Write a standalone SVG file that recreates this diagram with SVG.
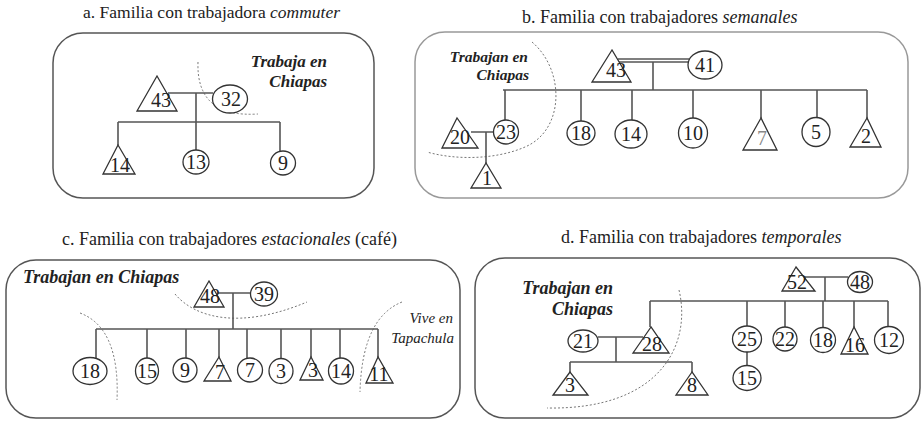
<svg xmlns="http://www.w3.org/2000/svg" width="923" height="421" viewBox="0 0 923 421" font-family="Liberation Serif, Times New Roman, serif">
<style>
.bg{fill:#ffffff}
.box{fill:none;stroke:#555;stroke-width:1.5}
.boxl{fill:none;stroke:#999;stroke-width:1.5}
.sh{fill:#fff;stroke:#333;stroke-width:1.3}
.ln{fill:none;stroke:#555;stroke-width:1.6}
.dash{fill:none;stroke:#777;stroke-width:1;stroke-dasharray:2,2}
.num{font-size:20px;fill:#222;text-anchor:middle}
.ttl{font-size:18px;fill:#222}
.lab{font-size:17px;font-weight:bold;font-style:italic;fill:#222}
.labi{font-size:15px;font-style:italic;fill:#222}
</style>
<rect class="bg" x="0" y="0" width="923" height="421"/>

<!-- Titles -->
<g id="titles" font-family="Liberation Serif, serif">
<text class="ttl" x="83" y="18" style="font-size:17.5px">a. Familia con trabajadora <tspan font-style="italic">commuter</tspan></text>
<text class="ttl" x="522" y="23">b. Familia con trabajadores <tspan font-style="italic">semanales</tspan></text>
<text class="ttl" x="62" y="245">c. Familia con trabajadores <tspan font-style="italic">estacionales</tspan> (café)</text>
<text class="ttl" x="561" y="243">d. Familia con trabajadores <tspan font-style="italic">temporales</tspan></text>
</g>

<!-- Panel frames -->
<rect class="box" x="53" y="33" width="321" height="165" rx="30"/>
<rect class="boxl" x="415" y="32" width="493" height="166" rx="30"/>
<rect class="box" x="6" y="260" width="454" height="158" rx="30"/>
<rect class="box" x="475" y="258" width="445" height="160" rx="30"/>

<!-- Region labels and dashed boundaries -->
<g id="regions" font-family="Liberation Serif, serif">
<text class="lab" x="327" y="67" text-anchor="end">Trabaja en</text>
<text class="lab" x="327" y="87" text-anchor="end">Chiapas</text>
<path class="dash" d="M198,62 Q196,118 258,114"/>
<text class="lab" x="528" y="62" text-anchor="end" style="font-size:15.5px">Trabajan en</text>
<text class="lab" x="529" y="80" text-anchor="end" style="font-size:15.5px">Chiapas</text>
<path class="dash" d="M532,42 C565,70 565,130 525,147 C495,160 455,160 427,152"/>
<text class="lab" x="23" y="283" style="font-size:18px">Trabajan en Chiapas</text>
<text class="labi" x="453" y="323" text-anchor="end">Vive en</text>
<text class="labi" x="454" y="343" text-anchor="end">Tapachula</text>
<path class="dash" d="M80,313 Q120,328 117,400"/>
<path class="dash" d="M175,294 C195,318 240,330 307,302"/>
<path class="dash" d="M402,302 Q362,318 360,392"/>
<text class="lab" x="613" y="294" text-anchor="end" style="font-size:18px">Trabajan en</text>
<text class="lab" x="613" y="315" text-anchor="end" style="font-size:18px">Chiapas</text>
<path class="dash" d="M679,290 C692,345 660,410 547,408"/>
</g>

<!-- Connectors -->
<g id="connectors">
<path class="ln" d="M168,93 H213 M196,93 V150 M118,122 H280 M118,122 V145 M280,122 V151"/>
<path class="ln" d="M618,59 H689 M618,62 H689 M653,62 V90 M503,90 H867 M505,90 V120 M581,90 V121 M632,90 V120 M693,90 V118 M761,90 V118 M817,90 V118 M867,90 V118 M471,132 H494 M486,132 V163"/>
<path class="ln" d="M218,293 H251 M233,293 V329 M96,329 H378 M96,329 V358 M147,329 V358 M186,329 V358 M219,329 V357 M247,329 V358 M281,329 V359 M311,329 V357 M340,329 V358 M378,329 V357"/>
<path class="ln" d="M805,277 H848 M825,277 V301 M650,301 H888 M650,301 V327 M747,301 V326 M785,301 V327 M823,301 V328 M854,301 V327 M888,301 V327 M598,337 H643 M616,337 V362 M570,362 H692 M570,362 V372 M692,362 V372 M747,352 V366"/>
</g>

<g id="nodes" font-family="Liberation Serif, serif">
<!-- Panel a nodes -->
<g id="a43"><polygon class="sh" points="157,76 137,111 177,111"/><text class="num" x="161" y="107">43</text></g>
<g id="a32"><ellipse class="sh" cx="230" cy="99" rx="17.5" ry="14"/><text class="num" x="231" y="106">32</text></g>
<g id="a14"><polygon class="sh" points="118,145 103,174 135,174"/><text class="num" x="120" y="172">14</text></g>
<g id="a13"><ellipse class="sh" cx="196" cy="162" rx="13" ry="12"/><text class="num" x="196" y="169">13</text></g>
<g id="a9"><ellipse class="sh" cx="283" cy="163" rx="12.5" ry="12"/><text class="num" x="283" y="170">9</text></g>

<!-- Panel b nodes -->
<g id="b43"><polygon class="sh" points="612,50 592,82 631,82"/><text class="num" x="616" y="77">43</text></g>
<g id="b41"><ellipse class="sh" cx="705" cy="65" rx="17" ry="14"/><text class="num" x="705" y="72">41</text></g>
<g id="b20"><polygon class="sh" points="457,118 442,148 478,148"/><text class="num" x="460" y="144">20</text></g>
<g id="b23"><ellipse class="sh" cx="506" cy="132" rx="12.5" ry="12"/><text class="num" x="506" y="139">23</text></g>
<g id="b1"><polygon class="sh" points="486,163 471,188 501,188"/><text class="num" x="487" y="185">1</text></g>
<g id="b18"><ellipse class="sh" cx="581" cy="133" rx="14" ry="12"/><text class="num" x="581" y="140">18</text></g>
<g id="b14"><ellipse class="sh" cx="631" cy="134" rx="16" ry="14"/><text class="num" x="631" y="141">14</text></g>
<g id="b10"><ellipse class="sh" cx="693" cy="133" rx="14.5" ry="15"/><text class="num" x="693" y="140">10</text></g>
<g id="b7"><polygon class="sh" points="761,118 743,150 777,150"/><text class="num" x="762" y="145" style="fill:#888">7</text></g>
<g id="b5"><ellipse class="sh" cx="816" cy="132" rx="14" ry="14.5"/><text class="num" x="816" y="139">5</text></g>
<g id="b2"><polygon class="sh" points="867,118 850,147 881,147"/><text class="num" x="866" y="143">2</text></g>

<!-- Panel c nodes -->
<g id="c48"><polygon class="sh" points="209,281 194,307 224,307"/><text class="num" x="210" y="303">48</text></g>
<g id="c39"><ellipse class="sh" cx="264" cy="294" rx="13.5" ry="12"/><text class="num" x="264" y="301">39</text></g>
<g id="c18"><ellipse class="sh" cx="90" cy="371" rx="17" ry="13.5"/><text class="num" x="90" y="378">18</text></g>
<g id="c15"><ellipse class="sh" cx="147" cy="371" rx="11.5" ry="13"/><text class="num" x="147" y="378">15</text></g>
<g id="c9"><ellipse class="sh" cx="185" cy="370" rx="12" ry="12"/><text class="num" x="185" y="377">9</text></g>
<g id="c7t"><polygon class="sh" points="219,357 204,381 231,381"/><text class="num" x="220" y="379">7</text></g>
<g id="c7"><ellipse class="sh" cx="250" cy="370" rx="12.5" ry="12"/><text class="num" x="250" y="377">7</text></g>
<g id="c3"><ellipse class="sh" cx="281" cy="371" rx="12" ry="12.5"/><text class="num" x="281" y="378">3</text></g>
<g id="c3t"><polygon class="sh" points="311,357 300,380 323,380"/><text class="num" x="313" y="377">3</text></g>
<g id="c14"><ellipse class="sh" cx="341" cy="371" rx="12.5" ry="13"/><text class="num" x="341" y="378">14</text></g>
<g id="c11"><polygon class="sh" points="378,357 366,383 393,383"/><text class="num" x="379" y="381">11</text></g>

<!-- Panel d nodes -->
<g id="d52"><polygon class="sh" points="796,267 782,291 815,291"/><text class="num" x="797" y="289">52</text></g>
<g id="d48"><ellipse class="sh" cx="860" cy="282" rx="12.5" ry="10.5"/><text class="num" x="860" y="289">48</text></g>
<g id="d21"><ellipse class="sh" cx="583" cy="341" rx="15" ry="11"/><text class="num" x="583" y="348">21</text></g>
<g id="d28"><polygon class="sh" points="651,327 633,353 669,353"/><text class="num" x="652" y="351">28</text></g>
<g id="d3"><polygon class="sh" points="570,372 553,395 588,395"/><text class="num" x="570" y="392">3</text></g>
<g id="d8"><polygon class="sh" points="692,372 676,395 708,395"/><text class="num" x="692" y="392">8</text></g>
<g id="d25"><ellipse class="sh" cx="747" cy="339" rx="14.5" ry="13"/><text class="num" x="747" y="346">25</text></g>
<g id="d15"><ellipse class="sh" cx="747" cy="378" rx="14" ry="12.5"/><text class="num" x="747" y="385">15</text></g>
<g id="d22"><ellipse class="sh" cx="785" cy="339" rx="12" ry="12"/><text class="num" x="785" y="346">22</text></g>
<g id="d18"><ellipse class="sh" cx="823" cy="340" rx="12.5" ry="12.5"/><text class="num" x="823" y="347">18</text></g>
<g id="d16"><polygon class="sh" points="854,327 841,354 868,354"/><text class="num" x="855" y="352">16</text></g>
<g id="d12"><ellipse class="sh" cx="889" cy="340" rx="14.5" ry="13.5"/><text class="num" x="889" y="347">12</text></g>
</g>
</svg>
